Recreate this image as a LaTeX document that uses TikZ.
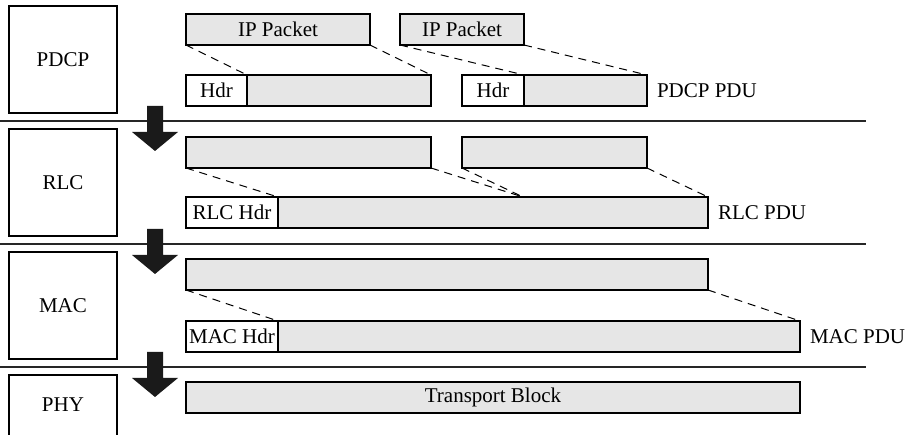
\documentclass[tikz,border=0pt]{standalone}
\usepackage{fontspec}
\setmainfont{Liberation Serif}
\definecolor{pdugray}{HTML}{E6E6E6}
\definecolor{arrowblack}{HTML}{1A1A1A}
\begin{document}
\begin{tikzpicture}[x=1pt,y=-1pt,
  every node/.style={font=\fontsize{21}{24}\selectfont, inner sep=0pt, outer sep=0pt},
  layerbox/.style={draw, line width=1.1pt, anchor=north west},
  seg/.style={draw, line width=1.1pt, fill=pdugray, anchor=north west, minimum height=31pt},
  hdrbox/.style={draw, line width=1.1pt, fill=white, anchor=north west, minimum height=31pt},
  sepline/.style={line width=1.1pt, draw=black!85},
  mapline/.style={line width=1pt, dash pattern=on 8pt off 6pt},
  downarrow/.style={fill=arrowblack},
  pdulabel/.style={anchor=west}]
\useasboundingbox (0,0) rectangle (911,435);

% layer separators
\coordinate (s1l) at (0,121);  \coordinate (s1r) at (866,121);
\coordinate (s2l) at (0,244);  \coordinate (s2r) at (866,244);
\coordinate (s3l) at (0,367);  \coordinate (s3r) at (866,367);
\draw[sepline] (s1l) -- (s1r);
\draw[sepline] (s2l) -- (s2r);
\draw[sepline] (s3l) -- (s3r);

% protocol layer boxes
\node[layerbox, minimum width=108pt, minimum height=107pt] (pdcp) at (9,6) {};
\node at (pdcp.center) {PDCP};
\node[layerbox, minimum width=108pt, minimum height=107pt] (rlc) at (9,129) {};
\node at (rlc.center) {RLC};
\node[layerbox, minimum width=108pt, minimum height=107pt] (mac) at (9,252) {};
\node at (mac.center) {MAC};
\coordinate (phybl) at (9,435);
\coordinate (phytl) at (9,375);
\coordinate (phytr) at (117,375);
\coordinate (phybr) at (117,435);
\draw[line width=1.1pt] (phybl) -- (phytl) -- (phytr) -- (phybr);
\node (phy) at (63,405) {PHY};

% downward arrows between layers
\foreach \t in {106,229,352}{
  \fill[downarrow] (147,\t) -- (163,\t) -- (163,\t+26) -- (178,\t+26)
    -- (155,\t+45) -- (132,\t+26) -- (147,\t+26) -- cycle;
}

% PDCP layer
\node[seg, minimum width=184pt] (ip1) at (186,14) {};
\node at (ip1.center) {IP Packet};
\node[seg, minimum width=124pt] (ip2) at (400,14) {};
\node at (ip2.center) {IP Packet};
\node[hdrbox, minimum width=61pt] (h1) at (186,75) {};
\node at (h1.center) {Hdr};
\node[seg, minimum width=184pt] (p1) at (247,75) {};
\node[hdrbox, minimum width=62pt] (h2) at (462,75) {};
\node at (h2.center) {Hdr};
\node[seg, minimum width=123pt] (p2) at (524,75) {};
\node[pdulabel] (pdcppdu) at (657,91) {PDCP PDU};
\draw[mapline] (ip1.south west) -- (h1.north east);
\draw[mapline] (ip1.south east) -- (p1.north east);
\draw[mapline] (ip2.south west) -- (h2.north east);
\draw[mapline] (ip2.south east) -- (p2.north east);

% RLC layer
\node[seg, minimum width=245pt] (r1) at (186,137) {};
\node[seg, minimum width=185pt] (r2) at (462,137) {};
\node[hdrbox, minimum width=92pt] (rh) at (186,197) {};
\node at (rh.center) {RLC Hdr};
\node[seg, minimum width=430pt] (rp) at (278,197) {};
\coordinate (rjoin) at (523,197);
\node[pdulabel] (rlcpdu) at (718,213) {RLC PDU};
\draw[mapline] (r1.south west) -- (rh.north east);
\draw[mapline] (r1.south east) -- (rjoin);
\draw[mapline] (r2.south west) -- (rjoin);
\draw[mapline] (r2.south east) -- (rp.north east);

% MAC layer
\node[seg, minimum width=522pt] (ms) at (186,259) {};
\node[hdrbox, minimum width=92pt] (mh) at (186,321) {};
\node at (mh.center) {MAC Hdr};
\node[seg, minimum width=522pt] (mp) at (278,321) {};
\node[pdulabel] (macpdu) at (810,337) {MAC PDU};
\draw[mapline] (ms.south west) -- (mh.north east);
\draw[mapline] (ms.south east) -- (mp.north east);

% PHY layer
\node[seg, minimum width=614pt] (tb) at (186,382) {};
\node at (tb.center) {Transport Block};
\end{tikzpicture}
\end{document}
